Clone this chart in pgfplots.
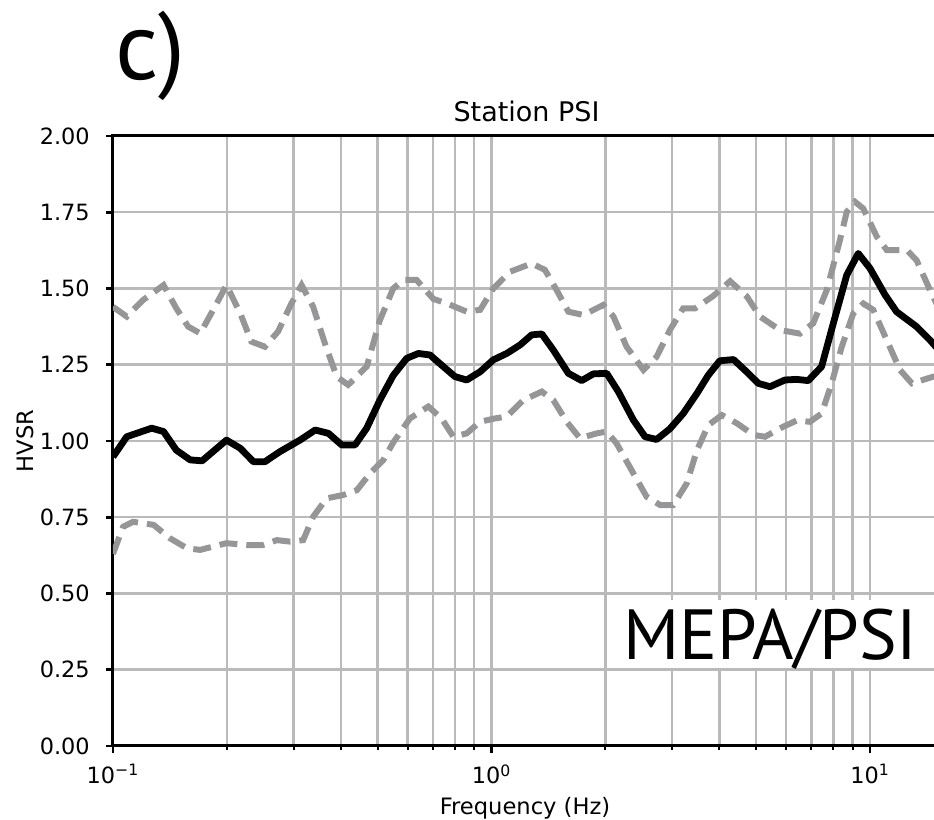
\documentclass[border=0pt]{standalone}
\usepackage{fontspec}
\setmainfont{DejaVu Sans}
\newfontfamily\ptsans{PT Sans}
\usepackage{pgfplots}
\pgfplotsset{compat=1.18}
\usepackage{pgfplotstable}

\definecolor{gridgray}{RGB}{186,186,186}
\definecolor{dashgray}{RGB}{150,150,153}

% mean HVSR curve
\pgfplotstableread{
f v
0.1 0.948
0.1087 1.014
0.1265 1.042
0.136 1.031
0.147 0.970
0.160 0.938
0.172 0.935
0.1995 1.003
0.217 0.976
0.235 0.932
0.252 0.932
0.276 0.965
0.312 1.003
0.342 1.036
0.371 1.025
0.402 0.987
0.436 0.987
0.468 1.042
0.507 1.134
0.550 1.215
0.597 1.271
0.641 1.287
0.688 1.282
0.738 1.249
0.801 1.211
0.860 1.200
0.933 1.227
1.011 1.266
1.097 1.287
1.19 1.315
1.277 1.348
1.358 1.351
1.457 1.298
1.596 1.222
1.731 1.198
1.858 1.220
2.015 1.222
2.163 1.162
2.37 1.069
2.545 1.014
2.73 1.005
2.96 1.040
3.21 1.090
3.49 1.156
3.74 1.216
4.01 1.263
4.36 1.267
4.72 1.227
5.07 1.189
5.44 1.178
5.96 1.200
6.40 1.202
6.87 1.198
7.45 1.244
8.0 1.386
8.68 1.544
9.31 1.615
10.0 1.566
10.96 1.479
11.75 1.424
13.27 1.375
14.4 1.331
15.4 1.29
}\meancurve

% mean + std
\pgfplotstableread{
f v
0.1 1.44
0.1087 1.408
0.120 1.462
0.136 1.511
0.147 1.435
0.158 1.375
0.170 1.353
0.184 1.430
0.1995 1.511
0.217 1.418
0.232 1.326
0.252 1.309
0.273 1.359
0.296 1.451
0.315 1.511
0.338 1.440
0.363 1.320
0.390 1.211
0.418 1.184
0.468 1.244
0.507 1.396
0.55 1.500
0.585 1.528
0.634 1.528
0.702 1.466
0.769 1.449
0.860 1.424
0.933 1.430
1.011 1.500
1.119 1.555
1.277 1.582
1.384 1.561
1.486 1.495
1.596 1.424
1.748 1.413
1.974 1.446
2.1 1.408
2.275 1.309
2.52 1.233
2.73 1.276
2.96 1.364
3.21 1.435
3.45 1.435
3.85 1.475
4.27 1.524
4.72 1.475
5.12 1.408
5.78 1.364
6.53 1.352
7.08 1.386
7.69 1.495
8.33 1.659
8.68 1.751
9.13 1.784
9.6 1.762
10.42 1.670
11.07 1.626
12.5 1.626
13.27 1.593
14.4 1.495
15.4 1.42
}\uppercurve

% mean - std
\pgfplotstableread{
f v
0.1 0.63
0.1064 0.719
0.113 0.735
0.128 0.725
0.1415 0.681
0.157 0.648
0.170 0.643
0.1995 0.665
0.2255 0.659
0.249 0.659
0.271 0.675
0.294 0.670
0.318 0.675
0.338 0.752
0.367 0.812
0.406 0.823
0.441 0.839
0.478 0.894
0.518 0.938
0.55 0.995
0.609 1.074
0.681 1.113
0.738 1.074
0.793 1.014
0.860 1.025
0.933 1.063
1.021 1.074
1.097 1.080
1.214 1.134
1.358 1.162
1.457 1.134
1.58 1.063
1.713 1.009
1.896 1.025
2.015 1.031
2.14 0.992
2.37 0.894
2.57 0.817
2.79 0.790
3.02 0.790
3.28 0.861
3.49 0.970
3.74 1.052
4.06 1.085
4.45 1.058
4.92 1.020
5.28 1.014
5.90 1.047
6.40 1.067
6.94 1.063
7.45 1.090
7.92 1.189
8.42 1.309
9.03 1.418
9.6 1.451
10.2 1.430
11.07 1.331
12.0 1.233
12.9 1.189
14.7 1.211
15.4 1.21
}\lowercurve

\begin{document}
\begin{tikzpicture}
\begin{axis}[
  name=ax,
  scale only axis,
  width=414pt,
  height=305pt,
  xmode=log,
  xmin=0.1, xmax=15.4,
  ymin=0, ymax=2,
  xtick={0.1,1,10},
  xticklabels={{10\textsuperscript{−1}},{10\textsuperscript{0}},{10\textsuperscript{1}}},
  ytick={0,0.25,...,2.0},
  /pgf/number format/assume math mode=true,
  yticklabel style={/pgf/number format/fixed,/pgf/number format/fixed zerofill,/pgf/number format/precision=2,inner sep=0pt,xshift=-8pt},
  xticklabel style={inner sep=0pt,yshift=-5.5pt},
  tick label style={font=\fontsize{11.2}{13}\selectfont},
  xtick pos=bottom, ytick pos=left,
  tick align=outside,
  major tick length=3.5pt,
  minor tick length=2pt,
  every major tick/.style={black,line width=1.3pt},
  every minor tick/.style={black,line width=1pt},
  xmajorgrids, xminorgrids, ymajorgrids,
  major grid style={gridgray,line width=1.25pt},
  minor grid style={gridgray,line width=1.25pt},
  axis line style={line width=1.5pt},
  clip=true,
]
\addplot[dashgray, line width=3pt, dash pattern=on 9pt off 4.5pt] table[x=f,y=v] {\uppercurve};
\addplot[dashgray, line width=3pt, dash pattern=on 9pt off 4.5pt] table[x=f,y=v] {\lowercurve};
\addplot[black, line width=3.4pt, line join=round] table[x=f,y=v] {\meancurve};
\end{axis}
% white box behind the label
\fill[white] ([shift={(249.5pt,39pt)}]ax.south west) rectangle ([shift={(412pt,73pt)}]ax.south west);
\node[anchor=base west, inner sep=0pt, font=\ptsans\fontsize{35.5}{40}\selectfont]
  at ([shift={(255pt,43pt)}]ax.south west) {MEPA/PSI};
\node[anchor=base, inner sep=0pt, font=\fontsize{13.5}{16}\selectfont]
  at ([shift={(206.75pt,312pt)}]ax.south west) {Station PSI};
\node[anchor=base, inner sep=0pt, font=\fontsize{11.3}{13}\selectfont]
  at ([shift={(206pt,-34.5pt)}]ax.south west) {Frequency (Hz)};
\node[rotate=90, anchor=center, inner sep=0pt, font=\fontsize{11.3}{13}\selectfont]
  at ([shift={(-44pt,152.5pt)}]ax.south west) {HVSR};
\node[anchor=base west, inner sep=0pt, font=\ptsans\fontsize{48}{52}\selectfont]
  at ([shift={(1pt,333pt)}]ax.south west) {c)};
\pgfresetboundingbox
\path[use as bounding box] ([shift={(-56.5pt,-37pt)}]ax.south west) rectangle ([shift={(410.5pt,373pt)}]ax.south west);
\end{tikzpicture}
\end{document}
